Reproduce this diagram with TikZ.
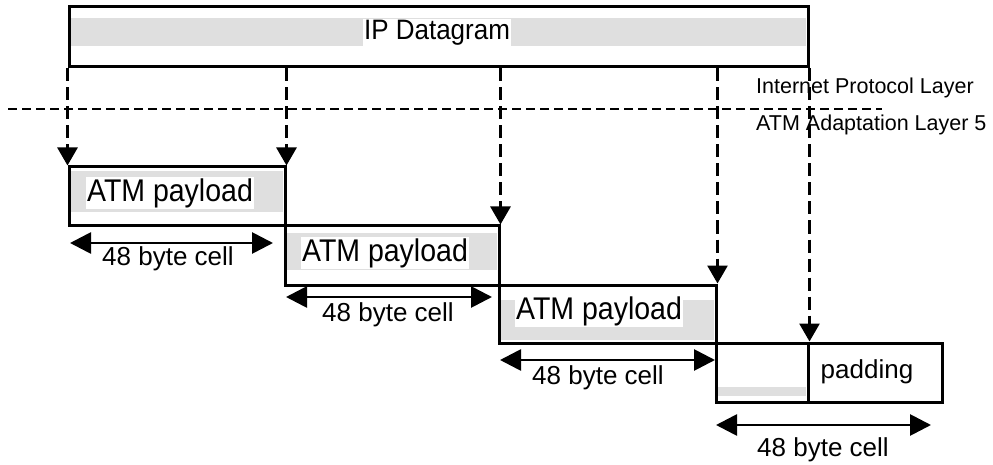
\documentclass[tikz,border=0pt]{standalone}
\usepackage{fontspec}
\setmainfont{Liberation Sans}
\usetikzlibrary{arrows.meta}

\tikzset{
  box/.style={draw, line width=3pt, inner sep=0pt},
  band/.style={fill=gray!25, draw=none},
  drop/.style={line width=2.8pt, dash pattern=on 13pt off 6pt,
    -{Triangle[width=20pt,length=18pt]}},
  layerline/.style={line width=2.3pt, dash pattern=on 9pt off 5pt},
  dimarrow/.style={line width=2.8pt,
    {Triangle[width=21pt,length=21pt]}-{Triangle[width=21pt,length=21pt]}},
  bigtext/.style={inner sep=1pt, font=\fontsize{26}{30}\selectfont},
  paytext/.style={inner sep=1pt, fill=white, font=\fontsize{28.5}{32}\selectfont},
  laytext/.style={inner sep=0pt, anchor=west, font=\fontsize{21.5}{25}\selectfont},
}

\begin{document}
\begin{tikzpicture}[x=1pt, y=-1pt]
\useasboundingbox (0,0) rectangle (993,465);

% shaded bands behind the texts
\fill[band] (71,18) rectangle (806,46);
\fill[band] (71,171) rectangle (283,212);
\fill[band] (287,233) rectangle (497,270);
\fill[band] (501,300) rectangle (714,340);
\fill[band] (718,387) rectangle (806,396);

% IP datagram
\node[box, minimum width=739pt, minimum height=60pt] (ip) at (438.5,37) {};
\node[bigtext, fill=white] (iptext) at (437,33) {\scalebox{1}[1.08]{IP Datagram}};

% ATM cells
\node[box, minimum width=216pt, minimum height=59pt] (b1) at (177,196.5) {};
\node[box, minimum width=214pt, minimum height=59pt] (b2) at (392,255.5) {};
\node[box, minimum width=217pt, minimum height=58pt] (b3) at (607.5,314) {};
\node[box, minimum width=92pt, minimum height=59pt] (b4a) at (762,372.5) {};
\node[box, minimum width=134pt, minimum height=59pt] (b4b) at (875,372.5) {};

\node[paytext] (p1) at (170,193) {\scalebox{1}[1.1]{ATM payload}};
\node[paytext] (p2) at (385,253) {\scalebox{1}[1.1]{ATM payload}};
\node[paytext] (p3) at (599,311) {\scalebox{1}[1.1]{ATM payload}};
\node[bigtext] (pad) at (867,372) {padding};

% layer boundary
\coordinate (lineL) at (8,109);
\coordinate (lineR) at (882,109);
\draw[layerline] (lineL) -- (lineR);
\node[laytext] (ipl) at (756,88) {Internet Protocol Layer};
\node[laytext] (aal) at (756,125) {ATM Adaptation Layer 5};

% segmentation arrows
\draw[drop] (ip.south west) -- (b1.north west);
\draw[drop] (b1.north east |- ip.south) -- (b1.north east);
\draw[drop] (b2.north east |- ip.south) -- (b2.north east);
\draw[drop] (b3.north east |- ip.south) -- (b3.north east);
\draw[drop] (b4a.north east |- ip.south) -- (b4a.north east);

% cell size dimensions
\coordinate (d1l) at (70,243);  \coordinate (d1r) at (273,243);
\coordinate (d2l) at (286,297); \coordinate (d2r) at (492,297);
\coordinate (d3l) at (500,360); \coordinate (d3r) at (715,360);
\coordinate (d4l) at (716,425); \coordinate (d4r) at (931,425);
\draw[dimarrow] (d1l) -- (d1r);
\draw[dimarrow] (d2l) -- (d2r);
\draw[dimarrow] (d3l) -- (d3r);
\draw[dimarrow] (d4l) -- (d4r);
\node[bigtext] (c1) at (168,259) {48 byte cell};
\node[bigtext] (c2) at (388,315) {48 byte cell};
\node[bigtext] (c3) at (598,378) {48 byte cell};
\node[bigtext] (c4) at (823,450) {48 byte cell};
\end{tikzpicture}
\end{document}
